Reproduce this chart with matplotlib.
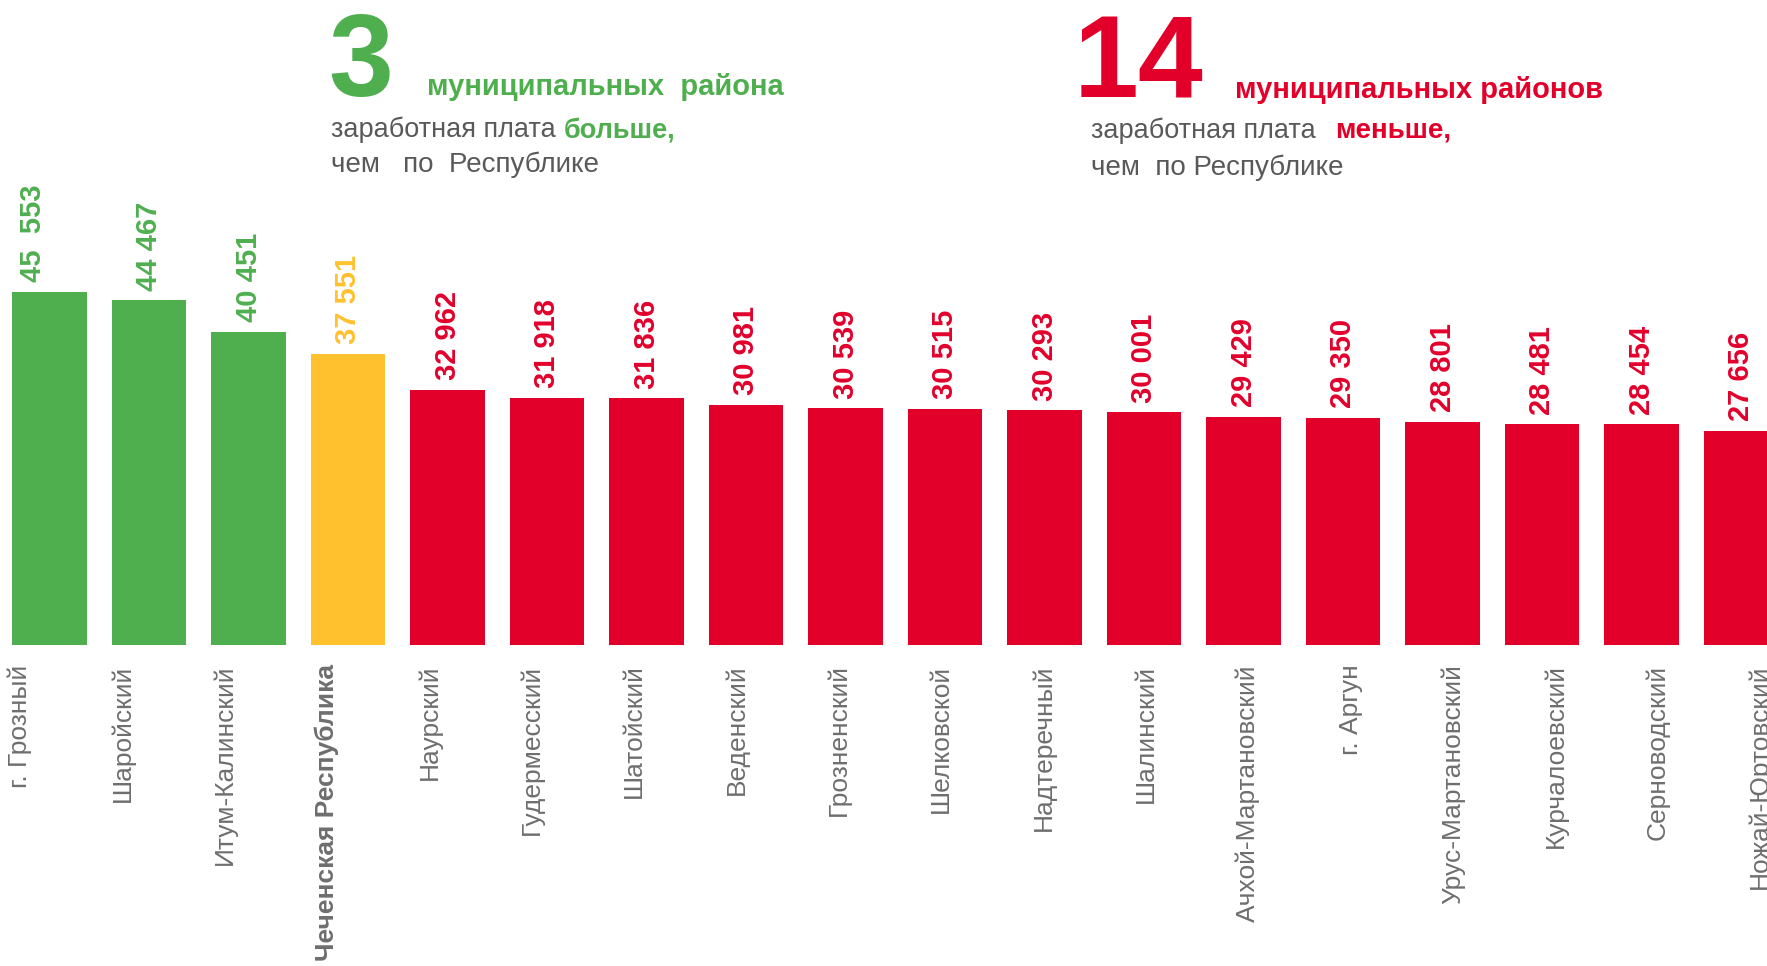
import matplotlib.pyplot as plt
from matplotlib import font_manager

# data
districts = ['г. Грозный', 'Шаройский', 'Итум-Калинский', 'Чеченская Республика',
             'Наурский', 'Гудермесский', 'Шатойский', 'Веденский', 'Грозненский',
             'Шелковской', 'Надтеречный', 'Шалинский', 'Ачхой-Мартановский',
             'г. Аргун', 'Урус-Мартановский', 'Курчалоевский', 'Серноводский',
             'Ножай-Юртовский']
salary = [45553, 44467, 40451, 37551, 32962, 31918, 31836, 30981, 30539,
          30515, 30293, 30001, 29429, 29350, 28801, 28481, 28454, 27656]
value_labels = ['45  553', '44 467', '40 451', '37 551', '32 962', '31 918',
                '31 836', '30 981', '30 539', '30 515', '30 293', '30 001',
                '29 429', '29 350', '28 801', '28 481', '28 454', '27 656']
republic = 'Чеченская Республика'

GREEN = '#4FAF4F'
RED = '#E2002B'
YELLOW = '#FFC12E'
GRAY = '#6E6E6E'
DARK = '#595959'

names = {f.name for f in font_manager.fontManager.ttflist}
FONT = 'Liberation Sans' if 'Liberation Sans' in names else 'DejaVu Sans'
NARROW = 'Liberation Sans Narrow' if 'Liberation Sans Narrow' in names else FONT
plt.rcParams['font.family'] = [FONT, 'DejaVu Sans']

W, H = 1767, 966
fig = plt.figure(figsize=(W / 100, H / 100), dpi=100)


def fx(x):
    return x / W


def fy(y):
    return 1 - y / H


colors = []
for name, v in zip(districts, salary):
    if name == republic:
        colors.append(YELLOW)
    elif v > salary[districts.index(republic)]:
        colors.append(GREEN)
    else:
        colors.append(RED)

rect = [0, fy(645), 1, 645 / H]
ax = fig.add_axes(rect)
x = list(range(len(districts)))
ax.bar(x, salary, width=0.75, color=colors)
ax.set_xlim(-0.4985, 17.26)
ax.set_ylim(0, 83226)
ax.axis('off')

for i, (v, lab, c) in enumerate(zip(salary, value_labels, colors)):
    dx = -12 if i == 0 else 0  # first label sits a bit left in the original
    ax.annotate(lab, (i, v), xytext=(dx, 7), textcoords='offset points',
                rotation=90, ha='center', va='bottom', color=c,
                fontsize=21, fontweight='bold')

# category labels sit on a slightly wider grid than the bars
ax_lab = fig.add_axes(rect, frameon=False)
ax_lab.set_xlim(-20 / 102.35, (W - 20) / 102.35)
ax_lab.set_ylim(0, 1)
ax_lab.set_yticks([])
ax_lab.set_xticks(x)
ax_lab.set_xticklabels(districts, rotation=90, va='top', ha='center',
                       fontsize=19, color=GRAY)
ax_lab.tick_params(axis='x', length=0, pad=14)
for t in ax_lab.get_xticklabels():
    if t.get_text() == republic:
        t.set_fontweight('bold')

# header, left block
fig.text(fx(328), fy(96), '3', fontsize=84, fontweight='bold', color=GREEN,
         va='baseline')
fig.text(fx(427), fy(95), 'муниципальных  района', fontsize=21,
         fontweight='bold', color=GREEN, va='baseline')
t1 = fig.text(fx(331), fy(137), 'заработная плата', fontsize=19.5,
              color=DARK, family=NARROW, va='baseline')
fig.add_artist(plt.Annotation('больше,', xy=(1, 0), xycoords=t1,
                              xytext=(6, 0), textcoords='offset points',
                              fontsize=19.5, fontweight='bold', color=GREEN,
                              va='bottom', ha='left'))
fig.text(fx(331), fy(172), 'чем   по  Республике', fontsize=20, color=DARK,
         family=NARROW, va='baseline')

# header, right block
fig.text(fx(1074), fy(98), '14', fontsize=84, fontweight='bold', color=RED,
         va='baseline')
fig.text(fx(1235), fy(98), 'муниципальных районов', fontsize=21,
         fontweight='bold', color=RED, va='baseline')
fig.text(fx(1091), fy(138), 'заработная плата', fontsize=19.5, color=DARK,
         family=NARROW, va='baseline')
fig.text(fx(1335), fy(138), 'меньше,', fontsize=20, fontweight='bold',
         color=RED, va='baseline')
fig.text(fx(1091), fy(175), 'чем  по Республике', fontsize=20, color=DARK,
         family=NARROW, va='baseline')

fig.savefig('out.png', dpi=100, facecolor='white')
